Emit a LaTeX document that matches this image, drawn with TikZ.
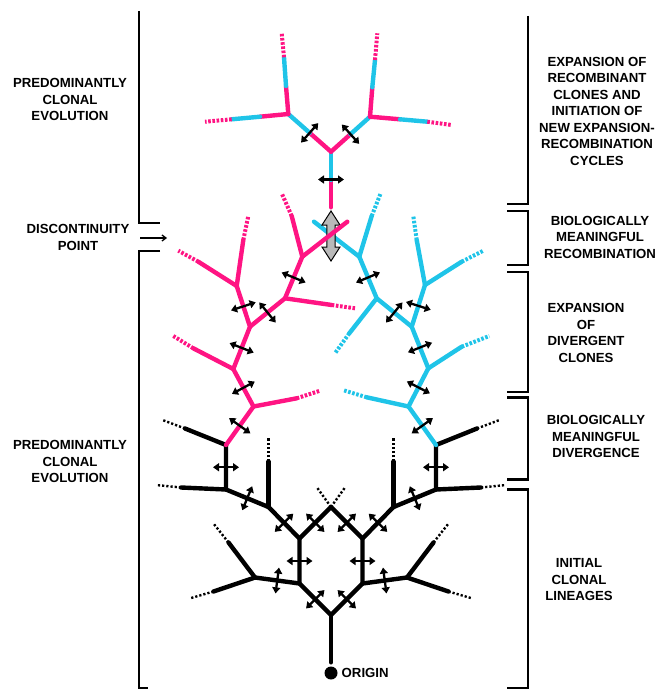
\documentclass[tikz,border=0pt]{standalone}
\usepackage{fontspec}
\setsansfont{Liberation Sans}
\usetikzlibrary{arrows.meta, calc}

\definecolor{clpink}{HTML}{FF1483}
\definecolor{clblue}{HTML}{1FC4E8}

% double arrow across a branch, at its middle
\newcommand{\exch}[2]{\draw[xarr] ($(#1)!.5!(#2)!13pt!90:(#2)$) -- ($(#1)!.5!(#2)!13pt!-90:(#2)$);}
% free branch end: pieces style/dx/dy one after the other
\newcommand{\stub}[2]{\coordinate (s) at (#1);
  \foreach \st/\dx/\dy in {#2} {\draw[\st] (s) -- ++(\dx,\dy) coordinate (s);}}

\begin{document}
\begin{tikzpicture}[
  x=1pt, y=-1pt,
  bk/.style={line width=4.4pt, line cap=round, line join=round},
  bkdot/.style={line width=2.4pt, dash pattern=on 2.2pt off 2pt},
  pk/.style={bk, clpink},
  pkdot/.style={line width=4pt, clpink, dash pattern=on 2.6pt off 1.6pt},
  bl/.style={bk, clblue},
  bldot/.style={line width=4pt, clblue, dash pattern=on 2.6pt off 1.6pt},
  xarr/.style={line width=2.3pt, {Triangle[length=6pt,width=8pt]}-{Triangle[length=6pt,width=8pt]}},
  brk/.style={line width=2.4pt},
  lbl/.style={font=\sffamily\bfseries\fontsize{13.2}{16.5}\selectfont, align=center, inner sep=0pt}
]
\useasboundingbox (0,0) rectangle (664,690);

% Brackets
\draw[brk] (139,11) -- (139,223) -- (160,223);
\draw[brk] (160,251) -- (139,251) -- (139,688) -- (148,688);
\draw[brk] (528,16) -- (528,204) -- (507,204);
\draw[brk] (507,211) -- (528,211) -- (528,265) -- (507,265);
\draw[brk] (507,272) -- (528,272) -- (528,392) -- (507,392);
\draw[brk] (507,397.5) -- (528,397.5) -- (528,479.5) -- (507,479.5);
\draw[brk] (507,489.5) -- (528,489.5) -- (528,688) -- (507,688);

% Labels
\node[lbl] (pce1) at (70,99.5) {PREDOMINANTLY\\CLONAL\\EVOLUTION};
\node[lbl] (disc) at (78,237.3) {DISCONTINUITY\\POINT};
\node[lbl] (pce2) at (70,461.5) {PREDOMINANTLY\\CLONAL\\EVOLUTION};
\node[lbl] (exrc) at (597,111.3) {EXPANSION OF\\RECOMBINANT\\CLONES AND\\INITIATION OF\\NEW EXPANSION-\\RECOMBINATION\\CYCLES};
\node[lbl] (bmr) at (600,237) {BIOLOGICALLY\\MEANINGFUL\\RECOMBINATION};
\node[lbl] (exdc) at (586,332.8) {EXPANSION\\OF\\DIVERGENT\\CLONES};
\node[lbl] (bmd) at (596,436.7) {BIOLOGICALLY\\MEANINGFUL\\DIVERGENCE};
\node[lbl] (icl) at (579,579.7) {INITIAL\\CLONAL\\LINEAGES};

\coordinate (dp) at (167,238);
\draw[line width=1.3pt, -{Straight Barb[length=4pt,width=6pt]}] (140,238) -- (dp);

% Initial lineages (black)
\node[circle, fill, inner sep=0pt, minimum size=13pt] (dot) at (331,673) {};
\node[lbl, anchor=west] (orig) at (341.5,672.7) {ORIGIN};
\coordinate (N0) at (331,615);
\coordinate (La) at (299.5,583.5); \coordinate (Ra) at (362.5,583.5);
\coordinate (Lb) at (299.5,538.5); \coordinate (Rb) at (362.5,538.5);
\coordinate (Tp) at (331,507);
\coordinate (Lc) at (268.5,507);   \coordinate (Rc) at (393.5,507);
\coordinate (Ld) at (226,489.5);   \coordinate (Rd) at (436,489.5);
\coordinate (Le) at (226,445);     \coordinate (Re) at (436,445);
\coordinate (Lf) at (255,577.5);   \coordinate (Rf) at (407,577.5);

\draw[bk] ([yshift=4pt]dot.north) -- (N0);
\draw[bk] (Lc) -- (Lb) -- (La) -- (N0) -- (Ra) -- (Rb) -- (Rc);
\draw[bk] (Lb) -- (Tp) -- (Rb);
\draw[bk] (Le) -- (Ld) -- (Lc);
\draw[bk] (Re) -- (Rd) -- (Rc);
\draw[bk] (Lf) -- (La);
\draw[bk] (Rf) -- (Ra);
\draw[bkdot] (Tp) -- ++(-14,-19.5);
\draw[bkdot] (Tp) -- ++(14,-19.5);
\stub{Lc}{bk/0/-45.5, bkdot/0/-24}
\stub{Rc}{bk/0/-45.5, bkdot/0/-24}
\stub{Ld}{bk/-45/-2, bkdot/-25/-2.5}
\stub{Rd}{bk/45/-2, bkdot/25/-2.5}
\stub{Le}{bk/-41/-16.5, bkdot/-22.5/-8.5}
\stub{Re}{bk/41/-16.5, bkdot/22.5/-8.5}
\stub{Lf}{bk/-26.5/-35, bkdot/-15/-19}
\stub{Rf}{bk/26.5/-35, bkdot/15/-19}
\stub{Lf}{bk/-41.5/14, bkdot/-24/7}
\stub{Rf}{bk/41.5/14, bkdot/24/7}

% Divergent clones
\coordinate (P1) at (253.5,406.5); \coordinate (B1) at (408.5,406.5);
\coordinate (P2) at (233.3,369);   \coordinate (B2) at (428.3,368.3);
\coordinate (P3) at (250,326.7);   \coordinate (B3) at (411.7,326.7);
\coordinate (P4) at (236.7,286);   \coordinate (B4) at (425,285);
\coordinate (P5) at (285,298.3);   \coordinate (B5) at (376.7,298.3);
\coordinate (P6) at (302.3,256.7); \coordinate (B6) at (359.3,256.7);

\draw[pk] (Le) -- (P1) -- (P2) -- (P3) -- (P4);
\draw[pk] (P3) -- (P5) -- (P6);
\stub{P1}{pk/43.2/-8.2, pkdot/23.3/-7.6}
\stub{P2}{pk/-40/-20.7, pkdot/-20/-12.3}
\stub{P4}{pk/6.6/-46, pkdot/5/-24}
\stub{P4}{pk/-38.4/-24.3, pkdot/-20/-11}
\stub{P5}{pk/46.7/6.7, pkdot/23.3/3.3}
\stub{P6}{pk/-10.6/-40.7, pkdot/-10/-22.7}

\draw[bl] (Re) -- (B1) -- (B2) -- (B3) -- (B4);
\draw[bl] (B3) -- (B5) -- (B6);
\stub{B1}{bl/-41.8/-9.2, bldot/-24/-7.3}
\stub{B2}{bl/33.4/-21.6, bldot/27.6/-10.7}
\stub{B4}{bl/-8.3/-45, bldot/-3.4/-24}
\stub{B4}{bl/36.7/-23.3, bldot/21.6/-11}
\stub{B5}{bl/-27.4/35, bldot/-14.3/20}
\stub{B6}{bl/12.4/-40.7, bldot/9/-22.7}
\stub{B6}{bl/-45.3/-35}

% Recombination
\coordinate (G) at (331,236);
\draw[fill=gray!55, line width=1pt] (G) ++(0,-25) -- ++(9,14) -- ++(-4.8,0) -- ++(0,22)
  -- ++(4.8,0) -- ++(-9,14) -- ++(-9,-14) -- ++(4.8,0) -- ++(0,-22) -- ++(-4.8,0) -- cycle;
\stub{P6}{pk/45/-35}

% Recombinant clones
\coordinate (Tb) at (331,207.3);
\coordinate (Tm) at (331,180);
\coordinate (T0) at (331,151.7);
\coordinate (T1) at (288.3,114);
\coordinate (T2) at (370,116.7);
\draw[pk] (Tb) -- (Tm);
\draw[bl] (Tm) -- (T0);
\draw[pk] (T0) -- ($(T0)!.5!(T1)$) coordinate (T1m);
\draw[bl] (T1m) -- (T1);
\draw[pk] (T0) -- ($(T0)!.5!(T2)$) coordinate (T2m);
\draw[bl] (T2m) -- (T2);
\stub{T1}{pk/-2.3/-28, bl/-2/-28.7, pkdot/-2.3/-24}
\stub{T1}{pk/-28.3/2.7, bl/-28.3/2.6, pkdot/-26.7/2.4}
\stub{T2}{pk/2.3/-29.4, bl/2.7/-27.3, pkdot/2.3/-26.7}
\stub{T2}{pk/30/2.6, bl/27.3/2.4, pkdot/24.4/3.3}

% Double arrows
\exch{N0}{La} \exch{N0}{Ra}
\exch{La}{Lb} \exch{Ra}{Rb}
\exch{Lb}{Tp} \exch{Rb}{Tp}
\exch{Lb}{Lc} \exch{Rb}{Rc}
\exch{Lc}{Ld} \exch{Rc}{Rd}
\exch{Ld}{Le} \exch{Rd}{Re}
\exch{La}{Lf} \exch{Ra}{Rf}
\exch{Le}{P1} \exch{Re}{B1}
\exch{P1}{P2} \exch{P2}{P3} \exch{P3}{P4} \exch{P3}{P5} \exch{P5}{P6}
\exch{B1}{B2} \exch{B2}{B3} \exch{B3}{B4} \exch{B3}{B5} \exch{B5}{B6}
\exch{Tb}{T0} \exch{T0}{T1} \exch{T0}{T2}

\end{tikzpicture}
\end{document}
